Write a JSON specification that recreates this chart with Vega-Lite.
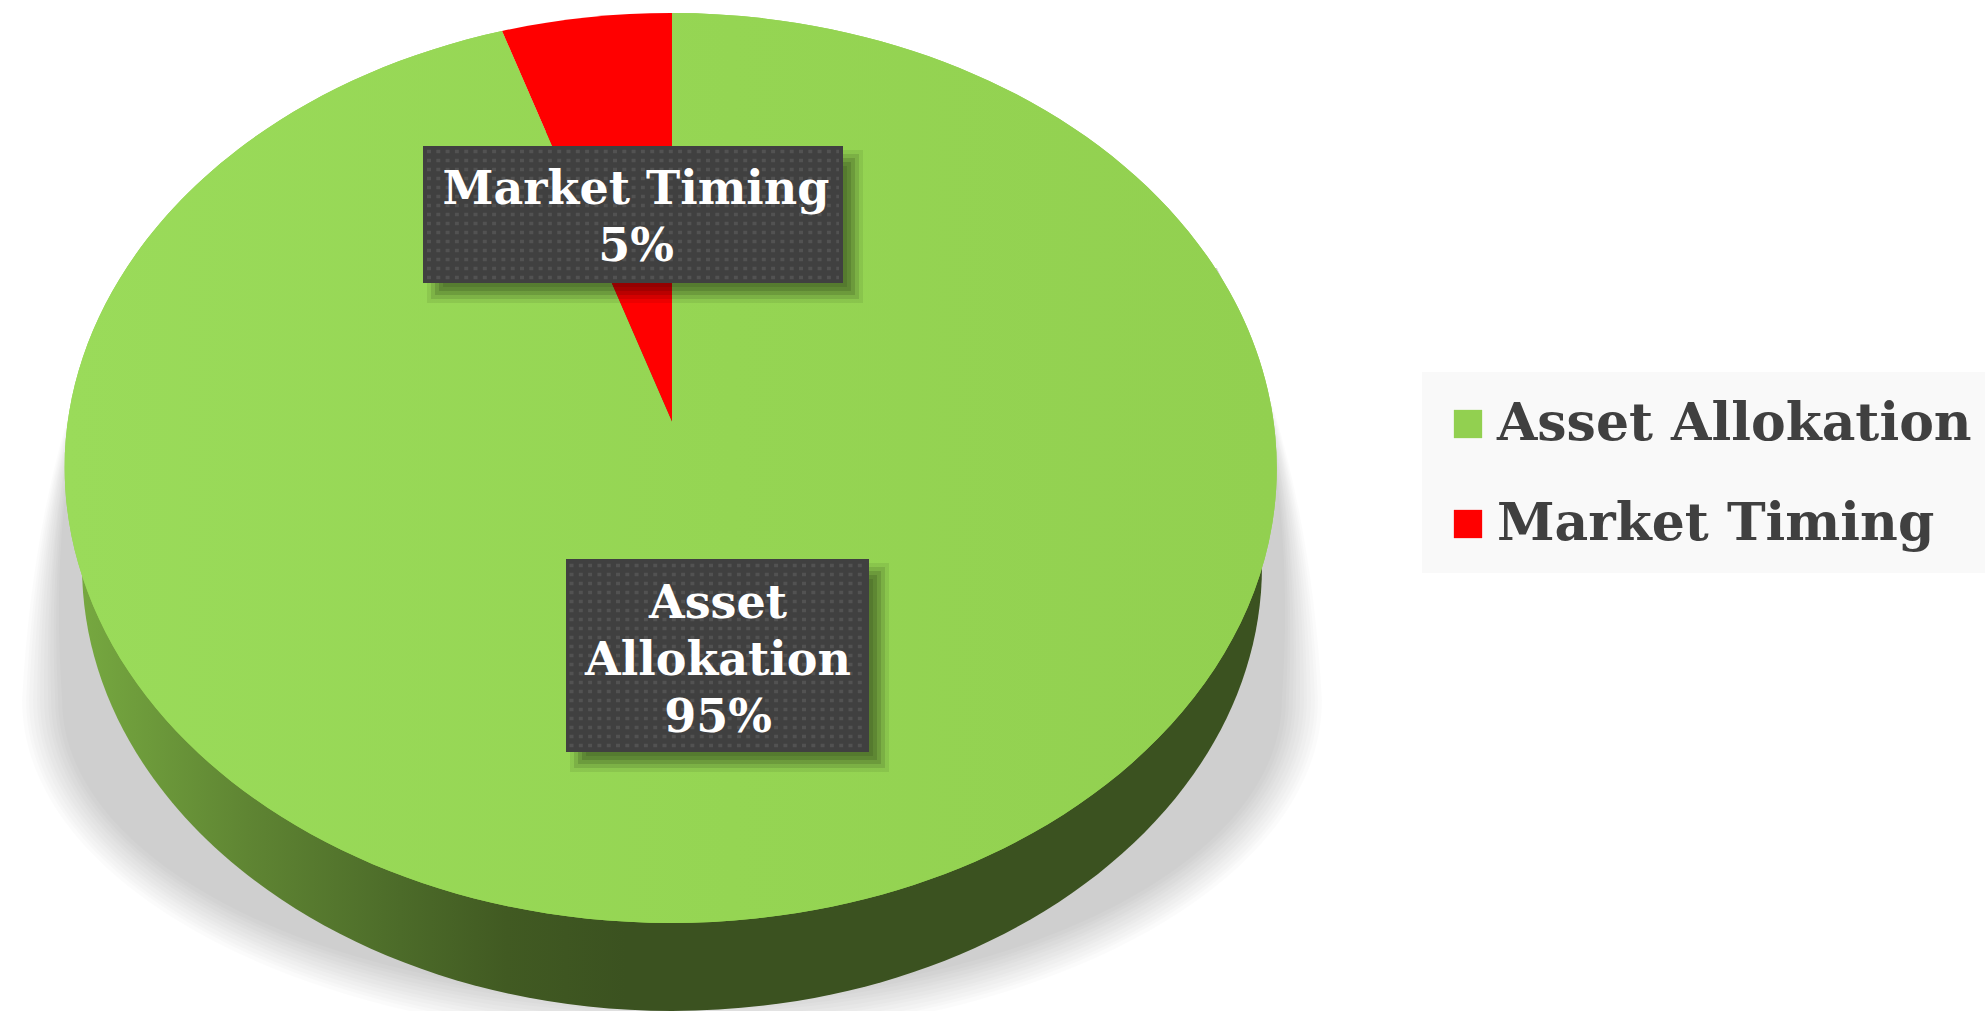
{
"$schema":"https://vega.github.io/schema/vega-lite/v6.json",
"description":"Tilted pie of return drivers: asset allocation against market timing",
"width":1985,"height":1011,"padding":0,
"autosize":{"type":"fit","contains":"padding"},
"background":"white",
"view":{"stroke":null},
"datasets":{
 "shares":[
  {"category":"Asset Allokation","share":95,"label":"Asset\nAllokation\n95%"},
  {"category":"Market Timing","share":5,"label":"Market Timing\n5%"}
 ]
},
"data":{"name":"shares"},
"resolve":{"scale":{"x":"independent","y":"independent","shape":"independent"}},
"layer":[
 {"transform":[{"filter":"datum.share > 50"}],
  "encoding":{"x":{"field":"category","type":"nominal","axis":null,"scale":{"type":"point","padding":0,"range":[672,672]}},"y":{"field":"category","type":"nominal","axis":null,"scale":{"type":"point","padding":0,"range":[468,468]}}},
  "layer":[
   {"mark":{"type":"point","filled":true,"size":4,"opacity":1,"strokeWidth":0,"color":"#000000","fillOpacity":0.017,"shape":"M-545,-200Q-636,-24 -650,232A650,340 0 0,0 650,232Q636,-24 545,-200Z"}},
   {"mark":{"type":"point","filled":true,"size":4,"opacity":1,"strokeWidth":0,"color":"#000000","fillOpacity":0.017,"shape":"M-545,-200Q-635,-24 -646,232A646,336 0 0,0 646,232Q635,-24 545,-200Z"}},
   {"mark":{"type":"point","filled":true,"size":4,"opacity":1,"strokeWidth":0,"color":"#000000","fillOpacity":0.017,"shape":"M-545,-200Q-634,-24 -643,232A643,333 0 0,0 643,232Q634,-24 545,-200Z"}},
   {"mark":{"type":"point","filled":true,"size":4,"opacity":1,"strokeWidth":0,"color":"#000000","fillOpacity":0.017,"shape":"M-545,-200Q-633,-24 -639,232A639,329 0 0,0 639,232Q633,-24 545,-200Z"}},
   {"mark":{"type":"point","filled":true,"size":4,"opacity":1,"strokeWidth":0,"color":"#000000","fillOpacity":0.017,"shape":"M-545,-200Q-633,-24 -635,232A635,325 0 0,0 635,232Q633,-24 545,-200Z"}},
   {"mark":{"type":"point","filled":true,"size":4,"opacity":1,"strokeWidth":0,"color":"#000000","fillOpacity":0.017,"shape":"M-545,-200Q-632,-24 -632,232A632,322 0 0,0 632,232Q632,-24 545,-200Z"}},
   {"mark":{"type":"point","filled":true,"size":4,"opacity":1,"strokeWidth":0,"color":"#000000","fillOpacity":0.017,"shape":"M-545,-200Q-631,-24 -628,232A628,318 0 0,0 628,232Q631,-24 545,-200Z"}},
   {"mark":{"type":"point","filled":true,"size":4,"opacity":1,"strokeWidth":0,"color":"#000000","fillOpacity":0.017,"shape":"M-545,-200Q-630,-24 -624,232A624,314 0 0,0 624,232Q630,-24 545,-200Z"}},
   {"mark":{"type":"point","filled":true,"size":4,"opacity":1,"strokeWidth":0,"color":"#000000","fillOpacity":0.017,"shape":"M-545,-200Q-630,-24 -621,232A621,311 0 0,0 621,232Q630,-24 545,-200Z"}},
   {"mark":{"type":"point","filled":true,"size":4,"opacity":1,"strokeWidth":0,"color":"#000000","fillOpacity":0.017,"shape":"M-545,-200Q-629,-24 -617,232A617,307 0 0,0 617,232Q629,-24 545,-200Z"}},
   {"mark":{"type":"point","filled":true,"size":4,"opacity":1,"strokeWidth":0,"color":"#000000","fillOpacity":0.017,"shape":"M-545,-200Q-628,-24 -614,232A614,304 0 0,0 614,232Q628,-24 545,-200Z"}},
   {"mark":{"type":"point","filled":true,"size":4,"opacity":1,"strokeWidth":0,"color":"#000000","fillOpacity":0.017,"shape":"M-545,-200Q-628,-24 -610,232A610,300 0 0,0 610,232Q628,-24 545,-200Z"}},
   {"mark":{"type":"point","filled":true,"size":4,"opacity":1,"strokeWidth":0,"shape":"M-590,98A590,445 0 1,1 590,98A590,445 0 1,1 -590,98Z",
     "fill":{"gradient":"linear","x1":0,"y1":0,"x2":1,"y2":0,"stops":[{"offset":0,"color":"#76a840"},{"offset":0.14,"color":"#5f8533"},{"offset":0.27,"color":"#4c6b29"},{"offset":0.36,"color":"#415a22"},{"offset":0.46,"color":"#3b5220"},{"offset":1,"color":"#3b5220"}]}}}
  ]},
 {"mark":{"type":"point","filled":true,"size":4,"opacity":1,"strokeWidth":0},
  "encoding":{
   "x":{"field":"category","type":"nominal","axis":null,"scale":{"type":"point","padding":0,"domain":["Asset Allokation","Market Timing"],"range":[672,672]}},
   "y":{"field":"category","type":"nominal","axis":null,"scale":{"type":"point","padding":0,"domain":["Asset Allokation","Market Timing"],"range":[468,468]}},
   "shape":{"field":"category","type":"nominal","legend":null,"scale":{"domain":["Asset Allokation","Market Timing"],"range":["M0,-46L0,-455A606,455 0 1,1 -170,-437Z","M0,-46L-170,-437A606,455 0 0,1 0,-455Z"]}},
   "color":{"field":"category","type":"nominal","scale":{"domain":["Asset Allokation","Market Timing"],"range":["#92d050","#ff0000"]},
    "legend":{"title":null,"orient":"none","legendX":1442,"legendY":398,"zindex":1,"symbolType":"square","symbolSize":800,"symbolStrokeWidth":0,"labelFont":"DejaVu Serif","labelFontWeight":"bold","labelFontSize":52,"labelColor":"#404040","labelOffset":3,"labelLimit":560,"rowPadding":48,"padding":0}}
  }},
 {"transform":[{"filter":"datum.share > 50"}],
  "encoding":{"x":{"field":"category","type":"nominal","axis":null,"scale":{"type":"point","padding":0,"range":[672,672]}},"y":{"field":"category","type":"nominal","axis":null,"scale":{"type":"point","padding":0,"range":[468,468]}}},
  "layer":[
   {"mark":{"type":"point","filled":true,"size":4,"opacity":1,"strokeWidth":0,"shape":"M0,-46L0,-455A606,455 0 1,1 -170,-437Z",
     "fill":{"gradient":"linear","x1":0,"y1":0,"x2":1,"y2":0,"stops":[{"offset":0,"color":"#9adb5a"},{"offset":0.55,"color":"#95d553"},{"offset":1,"color":"#92d050"}]}}},
   {"mark":{"type":"point","filled":true,"size":4,"opacity":1,"strokeWidth":0,"color":"#f9f9f9","shape":"M750,-96H1313V105H750Z"}}
  ]},
 {"encoding":{
   "x":{"field":"category","type":"nominal","axis":null,"scale":{"type":"point","padding":0,"domain":["Asset Allokation","Market Timing"],"range":[717.5,633]}},
   "y":{"field":"category","type":"nominal","axis":null,"scale":{"type":"point","padding":0,"domain":["Asset Allokation","Market Timing"],"range":[655.5,214.5]}}},
  "resolve":{"scale":{"shape":"independent"}},
  "layer":[
   {"mark":{"type":"point","filled":true,"size":4,"opacity":1,"strokeWidth":0,"color":"#000000","fillOpacity":0.07,"xOffset":12,"yOffset":12},
    "encoding":{"shape":{"field":"category","type":"nominal","legend":null,"scale":{"domain":["Asset Allokation","Market Timing"],"range":["M-159.5,-104.5H159.5V104.5H-159.5Z","M-218,-76.5H218V76.5H-218Z"]}}}},
   {"mark":{"type":"point","filled":true,"size":4,"opacity":1,"strokeWidth":0,"color":"#000000","fillOpacity":0.1,"xOffset":12,"yOffset":12},
    "encoding":{"shape":{"field":"category","type":"nominal","legend":null,"scale":{"domain":["Asset Allokation","Market Timing"],"range":["M-155.5,-100.5H155.5V100.5H-155.5Z","M-214,-72.5H214V72.5H-214Z"]}}}},
   {"mark":{"type":"point","filled":true,"size":4,"opacity":1,"strokeWidth":0,"color":"#000000","fillOpacity":0.12,"xOffset":12,"yOffset":12},
    "encoding":{"shape":{"field":"category","type":"nominal","legend":null,"scale":{"domain":["Asset Allokation","Market Timing"],"range":["M-151.5,-96.5H151.5V96.5H-151.5Z","M-210,-68.5H210V68.5H-210Z"]}}}},
   {"mark":{"type":"point","filled":true,"size":4,"opacity":1,"strokeWidth":0,"color":"#000000","fillOpacity":0.12,"xOffset":12,"yOffset":12},
    "encoding":{"shape":{"field":"category","type":"nominal","legend":null,"scale":{"domain":["Asset Allokation","Market Timing"],"range":["M-147.5,-92.5H147.5V92.5H-147.5Z","M-206,-64.5H206V64.5H-206Z"]}}}},
   {"mark":{"type":"point","filled":true,"size":4,"opacity":1,"strokeWidth":0,"color":"#000000","fillOpacity":0.09,"xOffset":12,"yOffset":12},
    "encoding":{"shape":{"field":"category","type":"nominal","legend":null,"scale":{"domain":["Asset Allokation","Market Timing"],"range":["M-143.5,-88.5H143.5V88.5H-143.5Z","M-202,-60.5H202V60.5H-202Z"]}}}},
   {"mark":{"type":"point","filled":true,"size":4,"opacity":1,"strokeWidth":0,"color":"#404040"},
    "encoding":{"shape":{"field":"category","type":"nominal","legend":null,"scale":{"domain":["Asset Allokation","Market Timing"],"range":["M-151.5,-96.5H151.5V96.5H-151.5Z","M-210,-68.5H210V68.5H-210Z"]}}}},
   {"mark":{"type":"point","filled":false,"size":4,"opacity":1,"stroke":"#525252","strokeWidth":3.5,"strokeDash":[4,5.3]},
    "encoding":{"shape":{"field":"category","type":"nominal","legend":null,"scale":{"domain":["Asset Allokation","Market Timing"],"range":[
     "M-148,-90H148M-148,-81H148M-148,-72H148M-148,-63H148M-148,-54H148M-148,-45H148M-148,-36H148M-148,-27H148M-148,-18H148M-148,-9H148M-148,0H148M-148,9H148M-148,18H148M-148,27H148M-148,36H148M-148,45H148M-148,54H148M-148,63H148M-148,72H148M-148,81H148M-148,90H148",
     "M-206,-63H206M-206,-54H206M-206,-45H206M-206,-36H206M-206,-27H206M-206,-18H206M-206,-9H206M-206,0H206M-206,9H206M-206,18H206M-206,27H206M-206,36H206M-206,45H206M-206,54H206M-206,63H206"]}}}}
  ]},
 {"mark":{"type":"text","font":"DejaVu Serif","fontWeight":"bold","fontSize":46,"color":"#ffffff","align":"center","baseline":"middle","lineBreak":"\n","lineHeight":57},
  "encoding":{
   "x":{"field":"category","type":"nominal","axis":null,"scale":{"type":"point","padding":0,"domain":["Asset Allokation","Market Timing"],"range":[718,636]}},
   "y":{"field":"category","type":"nominal","axis":null,"scale":{"type":"point","padding":0,"domain":["Asset Allokation","Market Timing"],"range":[604,190]}},
   "text":{"field":"label","type":"nominal"}
  }}
]
}
